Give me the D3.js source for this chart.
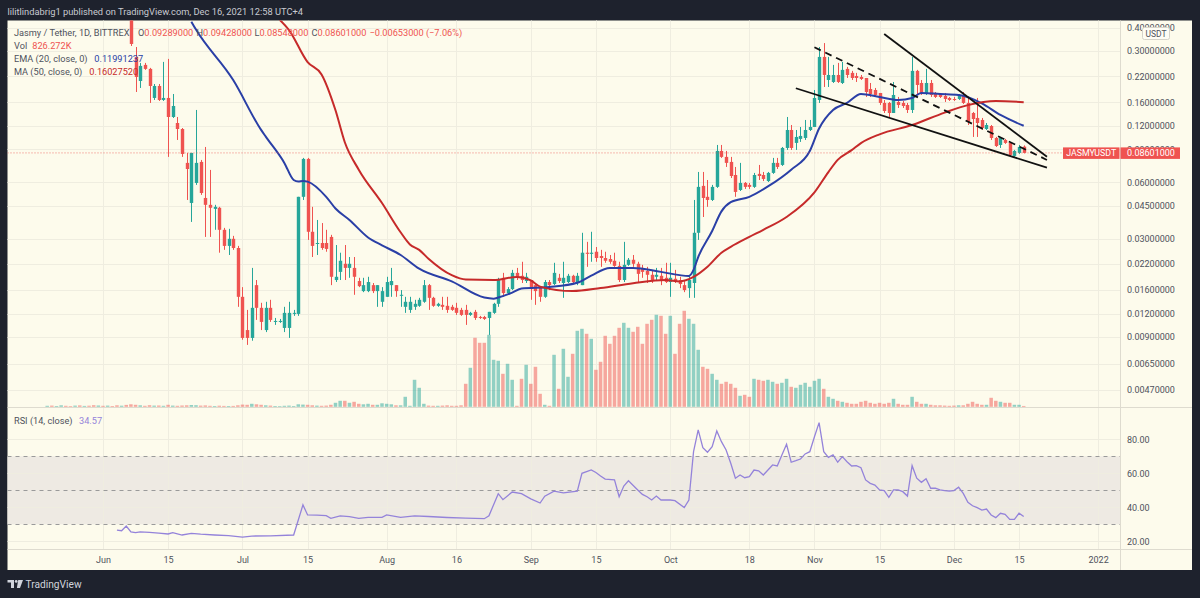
<!DOCTYPE html>
<html>
<head>
<meta charset="utf-8">
<script src="https://cdn.jsdelivr.net/npm/d3@7/dist/d3.min.js"></script>
<style>
  html, body { margin:0; padding:0; background:#1e222d; overflow:hidden; }
  svg { display:block; }
  text { font-family: Roboto, "Noto Sans", "DejaVu Sans", sans-serif; }
</style>
</head>
<body>
<svg id="chart" width="1200" height="598"></svg>
<script>
// ================= DATA =================
const publishLine = "lilitlindabrig1 published on TradingView.com, Dec 16, 2021 12:58 UTC+4";
const symbolTitle = "Jasmy / Tether, 1D, BITTREX";
const symbolTag = "JASMYUSDT";
const quoteCurrency = "USDT";

// daily candles, first visible candle 2021-06-07
const candleStart = "2021-06-07";
const candleOpen = [
  0.50,0.279,0.2077,0.253,0.2409,0.1687,0.1954,0.1646,0.1687,0.1336,
  0.1241,0.1153,0.0761,0.04656,0.0595,0.077,0.0495,0.0455,0.0433,0.0439,
  0.0335,0.0275,0.030,0.0268,0.01473,0.0098,0.0089,0.017,0.01287,0.0098,
  0.01287,0.01083,0.01083,0.01006,0.01006,0.01195,0.01195,0.0502,0.0799,0.0327,
  0.0282,0.0285,0.0285,0.0307,0.0181,0.020,0.02209,0.021,0.021,0.01788,
  0.0158,0.0158,0.017,0.0158,0.01386,0.01473,0.017,0.017,0.01492,0.01303,
  0.01255,0.01303,0.01319,0.01386,0.017,0.01455,0.01319,0.01335,0.01319,0.01303,
  0.01287,0.01255,0.01255,0.0118,0.01225,0.01151,0.01151,0.01137,0.0121,0.01352,
  0.0186,0.01542,0.01619,0.01976,0.01906,0.01788,0.0181,0.017,0.01659,0.01473,
  0.01766,0.01723,0.0186,0.01745,0.01766,0.01906,0.01745,0.017,0.0253,0.02495,
  0.0256,0.0243,0.02371,0.02342,0.02292,0.02153,0.0181,0.0218,0.0232,0.02209,
  0.021,0.02025,0.0193,0.01883,0.01906,0.0186,0.01766,0.01838,0.0181,0.017,
  0.01639,0.01745,0.0323,0.0574,0.0502,0.0483,0.0567,0.0881,0.0819,0.077,
  0.0656,0.0546,0.0595,0.0581,0.0567,0.0665,0.0656,0.0609,0.0673,0.0761,
  0.0742,0.0914,0.1139,0.0972,0.1021,0.1033,0.1139,0.1182,0.1646,0.279,
  0.2103,0.2052,0.2236,0.2027,0.2409,0.2294,0.2209,0.2182,0.2155,0.1883,
  0.186,0.1793,0.1587,0.1587,0.1403,0.1606,0.1587,0.1548,0.1456,0.2351,
  0.2027,0.1793,0.2027,0.1793,0.1771,0.1729,0.1687,0.1666,0.1666,0.175,
  0.1587,0.1403,0.132,0.1288,0.1153,0.1196,0.1033,0.0948,0.1008,0.0972,
  0.0829,0.086,0.09289
];
const candleHigh = [
  0.52,0.315,0.2593,0.2593,0.2439,0.2002,0.2002,0.2625,0.2723,0.1771,
  0.1336,0.1167,0.086,0.086,0.1456,0.0789,0.0925,0.0698,0.0455,0.0444,
  0.0343,0.0339,0.0311,0.0275,0.01659,0.01255,0.021,0.0181,0.01369,0.01386,
  0.0142,0.01137,0.01123,0.01303,0.01386,0.01255,0.0502,0.0809,0.0809,0.0444,
  0.0378,0.0364,0.0335,0.0315,0.0278,0.0253,0.0278,0.024,0.024,0.0186,
  0.0186,0.01883,0.01745,0.017,0.01659,0.01883,0.021,0.017,0.016,0.01473,
  0.01473,0.0142,0.01455,0.0181,0.01723,0.01473,0.01369,0.01473,0.01473,0.01335,
  0.01369,0.01287,0.01335,0.01225,0.01255,0.01166,0.01166,0.01225,0.01369,0.0186,
  0.01976,0.01659,0.0205,0.021,0.02264,0.01976,0.0181,0.01745,0.01659,0.0181,
  0.0181,0.02236,0.01952,0.02264,0.01952,0.0193,0.01976,0.0323,0.0289,0.0327,
  0.02713,0.0262,0.0256,0.0246,0.0253,0.02264,0.0289,0.02371,0.0246,0.02264,
  0.0218,0.02127,0.02025,0.021,0.021,0.02236,0.02236,0.0205,0.01883,0.0181,
  0.0193,0.0483,0.0681,0.0681,0.0617,0.0581,0.0948,0.0948,0.0881,0.0819,
  0.0724,0.0761,0.0602,0.0595,0.0673,0.0742,0.0681,0.0681,0.0809,0.0809,
  0.0925,0.1336,0.1211,0.1139,0.1182,0.1288,0.1288,0.186,0.315,0.3306,
  0.279,0.253,0.2593,0.2625,0.2469,0.2351,0.2294,0.2236,0.2155,0.2027,
  0.1907,0.1793,0.1646,0.1606,0.2052,0.1708,0.1626,0.1587,0.279,0.238,
  0.2103,0.2409,0.2103,0.1815,0.1793,0.1793,0.1708,0.1708,0.1771,0.1815,
  0.1708,0.1421,0.1687,0.132,0.1241,0.1211,0.1046,0.1046,0.1021,0.0972,
  0.0892,0.0948,0.09428
];
const candleLow = [
  0.319,0.1815,0.1907,0.238,0.1587,0.1646,0.1626,0.1626,0.0819,0.132,
  0.1008,0.0819,0.0483,0.0369,0.0581,0.0514,0.0307,0.0307,0.0335,0.0253,
  0.0262,0.0246,0.0262,0.01303,0.0087,0.00817,0.0086,0.0111,0.0098,0.00956,
  0.01083,0.01044,0.0107,0.00956,0.0089,0.01166,0.01166,0.0483,0.0296,0.024,
  0.0246,0.0262,0.0256,0.017,0.01766,0.0181,0.0181,0.0186,0.0151,0.01659,
  0.0156,0.0156,0.01542,0.01303,0.01303,0.01473,0.01473,0.01473,0.01303,0.0121,
  0.0121,0.01255,0.01303,0.01369,0.01255,0.01303,0.01303,0.01255,0.0121,0.0124,
  0.0118,0.01166,0.01044,0.01166,0.0111,0.01123,0.0111,0.00923,0.01195,0.01303,
  0.01473,0.0151,0.016,0.0181,0.01745,0.01745,0.0142,0.01335,0.01386,0.01455,
  0.016,0.017,0.01745,0.01455,0.01745,0.01723,0.017,0.017,0.02127,0.02264,
  0.02264,0.02127,0.02236,0.02209,0.02127,0.01766,0.01766,0.02153,0.02127,0.01766,
  0.0186,0.01745,0.01745,0.0181,0.017,0.01745,0.01473,0.01745,0.01639,0.0156,
  0.01455,0.01455,0.0296,0.0392,0.0444,0.0477,0.056,0.0809,0.0724,0.0632,
  0.0502,0.0539,0.0553,0.0553,0.056,0.0617,0.0609,0.0602,0.0665,0.0706,
  0.0733,0.0892,0.0892,0.0892,0.0984,0.1008,0.1125,0.1182,0.1587,0.193,
  0.193,0.2027,0.2027,0.2002,0.2155,0.2103,0.2052,0.2103,0.1708,0.1708,
  0.1708,0.1548,0.1403,0.132,0.1403,0.1492,0.1492,0.1403,0.1403,0.175,
  0.175,0.175,0.1708,0.1687,0.1687,0.1606,0.1626,0.1626,0.1646,0.1567,
  0.1211,0.1046,0.1046,0.1139,0.1139,0.1008,0.0925,0.0914,0.096,0.0829,
  0.0819,0.0849,0.08548
];
const candleClose = [
  0.327,0.2182,0.2499,0.2409,0.1954,0.1954,0.1646,0.1687,0.1336,0.1529,
  0.1153,0.0849,0.0706,0.086,0.0761,0.0526,0.0455,0.0439,0.0444,0.0335,
  0.0275,0.030,0.0268,0.01473,0.0089,0.0089,0.01287,0.01287,0.01083,0.01287,
  0.0111,0.01096,0.01096,0.0121,0.0121,0.0121,0.0502,0.0799,0.0327,0.0275,
  0.0285,0.0268,0.0265,0.01883,0.01883,0.02292,0.021,0.02209,0.01883,0.01679,
  0.017,0.01766,0.0158,0.017,0.0158,0.01766,0.01788,0.0158,0.0151,0.01386,
  0.01386,0.01352,0.0142,0.017,0.01455,0.01319,0.01352,0.01303,0.01255,0.01255,
  0.0121,0.0118,0.0118,0.0121,0.01137,0.01137,0.01123,0.01225,0.01352,0.0181,
  0.01542,0.01619,0.01976,0.01883,0.0181,0.01883,0.01619,0.0158,0.01473,0.01766,
  0.017,0.01976,0.01788,0.0186,0.01906,0.01766,0.01906,0.0253,0.02495,0.0253,
  0.02371,0.02371,0.02292,0.02264,0.02153,0.0181,0.0218,0.0232,0.02209,0.01952,
  0.020,0.0193,0.01788,0.0193,0.0181,0.01766,0.0186,0.01788,0.01723,0.016,
  0.0181,0.0323,0.0567,0.0495,0.0483,0.0567,0.0881,0.0819,0.0761,0.0648,
  0.0533,0.0595,0.0567,0.0567,0.0656,0.0648,0.0625,0.0673,0.0761,0.0724,
  0.0914,0.1139,0.0914,0.1046,0.1059,0.1139,0.1182,0.1687,0.279,0.2236,
  0.2236,0.2236,0.2052,0.238,0.2236,0.2155,0.2155,0.2129,0.1815,0.1771,
  0.175,0.1587,0.1438,0.1403,0.175,0.1548,0.1529,0.1456,0.2351,0.1978,
  0.1793,0.2027,0.175,0.1708,0.1708,0.1666,0.1646,0.1646,0.175,0.1587,
  0.1257,0.1303,0.1241,0.1167,0.1211,0.1033,0.0936,0.1033,0.0972,0.0839,
  0.0881,0.09254,0.08601
];

// daily volume (millions), from 2021-05-20
const volumeStart = "2021-05-20";
const volumeM = [
  1.0,1.2,0.8,1.5,1.0,0.7,1.2,1.4,0.9,1.1,
  1.6,1.3,1.0,1.2,0.8,1.5,1.1,1.9,
  2.5,2.0,1.5,1.0,1.6,1.2,1.3,1.0,2.0,1.2,
  1.0,1.3,1.5,1.8,1.6,1.2,1.4,1.0,0.8,1.1,
  0.9,0.8,0.9,1.5,2.2,2.0,3.0,2.5,2.0,1.5,
  1.2,0.8,0.7,1.0,1.2,0.8,2.5,2.2,2.0,1.5,
  1.2,1.0,1.2,2.0,4,6,6,4,5,3,
  2.5,3,2,2,3.5,3,2.5,1.5,1.5,10,
  1,27,19,3,1.2,1.0,1.0,1.2,1.5,1.0,
  1.0,1.5,23,39,69,64,64,72,47,46,
  33,43,27,1,28,42,23,40,13,2,
  1,52,18,58,30,53,76,78,73,68,
  37,45,71,63,71,79,84,79,75,80,
  63,83,87,92,91,73,91,53,83,96,
  88,83,57,40,38,33,27,23,25,23,
  19,11,12,10,28,27,26,27,25,23,
  24,28,20,19,22,24,20,26,28,18,
  10,8,6,5,4,3,3,5,6,4,
  3,4,3,4,8,3,2,2,10,5,
  3,3,2,1.5,1.5,1.2,1.0,1.2,1.5,1.5,
  3,5,3,2,2,9,6,5,4,4,
  2,2,0.826272
];
// direction of the volume bars before the first visible candle (1 = up)
const earlyVolumeUp = [1,0,1,1,0,0,1,0,1,0,0,1,0,1,0,0,1,0];

// EMA (20)
const emaDates = ["06-20","06-21","06-29","07-05","07-06","07-10","07-12","07-13","07-14","07-15","07-19","07-21","07-24","07-28","07-31","08-04","08-08","08-15","08-22","08-24","08-25","08-28","08-30","09-05","09-11","09-14","09-18","09-23","09-29","10-05","10-06","10-07","10-10","10-12","10-14","10-18","10-22","10-27","10-31","11-02","11-05","11-08","11-11","11-15","11-19","11-22","11-24","11-28","12-02","12-07","12-11","12-16"];
const emaValues = [0.43,0.39,0.21,0.114,0.105,0.0761,0.0617,0.0605,0.061,0.0605,0.0502,0.0435,0.0378,0.0305,0.0277,0.0246,0.0208,0.0178,0.0146,0.0144,0.0146,0.0155,0.0163,0.0166,0.0175,0.0191,0.0210,0.0210,0.0200,0.0190,0.0205,0.0240,0.0330,0.0420,0.0470,0.0502,0.0570,0.0700,0.0880,0.1160,0.1456,0.1587,0.1771,0.1708,0.1646,0.1687,0.1793,0.1771,0.1750,0.1580,0.1369,0.11991237];

// MA (50)
const maDates = ["07-09","07-11","07-15","07-18","07-21","07-23","07-26","07-31","08-04","08-06","08-08","08-10","08-15","08-18","08-24","08-29","09-01","09-03","09-10","09-16","09-23","09-30","10-03","10-06","10-09","10-12","10-14","10-18","10-21","10-26","11-01","11-04","11-06","11-09","11-11","11-15","11-22","11-29","12-04","12-10","12-16"];
const maValues = [0.44,0.388,0.262,0.225,0.145,0.098,0.070,0.0465,0.0325,0.0280,0.0262,0.0235,0.0192,0.0182,0.0181,0.0188,0.0180,0.0167,0.0158,0.0164,0.0174,0.0181,0.0178,0.0188,0.0213,0.0253,0.0272,0.0307,0.0335,0.0392,0.0530,0.0680,0.0790,0.0890,0.0970,0.1080,0.1210,0.1410,0.1545,0.1626,0.1602752];

// RSI (14)
const rsiDates = ["06-04","06-05","06-06","06-07","06-08","06-09","06-11","06-13","06-15","06-16","06-18","06-20","06-22","06-25","06-28","07-01","07-03","07-07","07-12","07-14","07-15","07-17","07-19","07-20","07-22","07-24","07-26","07-28","07-31","08-01","08-04","08-07","08-10","08-14","08-18","08-22","08-23","08-25","08-26","08-28","08-30","09-01","09-03","09-04","09-06","09-08","09-11","09-12","09-14","09-15","09-16","09-17","09-19","09-20","09-21","09-22","09-24","09-25","09-26","09-27","09-28","09-29","10-01","10-02","10-04","10-05",
  "10-06","10-07","10-08","10-09","10-10","10-11","10-12","10-13","10-14","10-15","10-16","10-17","10-18","10-19","10-20","10-21","10-22","10-23","10-24","10-25","10-26","10-27","10-28","10-29","10-30","10-31",
  "11-01","11-02","11-03","11-04","11-05","11-06","11-07","11-08","11-09","11-10","11-11","11-12","11-13","11-14","11-15","11-16","11-17","11-18","11-19","11-20","11-21","11-22","11-23","11-24","11-25","11-26","11-27","11-28","11-29","11-30",
  "12-01","12-02","12-03","12-04","12-05","12-06","12-07","12-08","12-09","12-10","12-11","12-12","12-13","12-14","12-15","12-16"];
const rsiValues = [26.6,26.2,29.0,25.5,25.1,25.6,25.2,24.8,24.3,25.1,23.7,24.7,24.2,23.7,23.3,22.4,23.1,23.2,23.7,41.4,35.5,35.4,35.1,33.5,34.9,34.5,33.5,34.1,34.1,35.5,34.1,35.0,34.6,34.0,33.6,33.3,35.0,48.0,44.5,49.0,48.0,45.0,42.5,46.5,49.5,48.5,49.5,60.0,62.0,60.5,58.4,56.6,56.1,46.2,52.5,55.6,50.2,47.6,46.2,44.3,46.6,44.3,44.3,43.9,39.8,44.3,
  72.7,85.5,75.1,72.4,75.6,84.9,78.6,73.7,65.9,57.1,59.0,57.4,58.0,61.9,61.5,59.0,61.9,64.9,64.3,70.8,77.1,66.5,67.4,68.4,71.4,72.7,
  81.5,89.8,72.7,69.4,70.8,66.5,69.8,66.8,64.3,64.5,63.3,56.1,54.1,53.1,50.2,49.8,45.9,50.2,50.2,49.2,46.6,64.5,57.1,54.7,56.8,51.2,51.2,50.2,49.8,49.6,
  49.8,51.8,48.2,42.9,40.9,39.8,38.4,39.0,35.5,33.9,36.5,35.9,32.9,32.9,36.5,34.57];

// axes
const priceTicks = [0.4,0.3,0.22,0.16,0.12,0.09,0.06,0.045,0.03,0.022,0.016,0.012,0.009,0.0065,0.0047];
const timeTickDates = ["2021-06-01","2021-06-15","2021-07-01","2021-07-15","2021-08-01","2021-08-16","2021-09-01","2021-09-15","2021-10-01","2021-10-18","2021-11-01","2021-11-15","2021-12-01","2021-12-15","2022-01-01"];
const timeTickLabels = ["Jun","15","Jul","15","Aug","16","Sep","15","Oct","18","Nov","15","Dec","15","2022"];
const rsiTicks = [80,60,40,20];
const rsiLevels = [70,50,30];

// hand-drawn trend lines (date, price)
const upperTrend = [["2021-11-16",0.3695],["2021-12-21",0.0821]];
const lowerTrend = [["2021-10-28",0.190],["2021-12-21",0.0718]];
const channelTrend = [["2021-11-01",0.314],["2021-12-21",0.0789]];

// ================= DRAWING =================
const parse = d3.utcParse("%Y-%m-%d");
const md = s => parse("2021-" + s);
const UP = "#26a69a", DOWN = "#ef5350";
const EMA_C = "#2a3fa6", MA_C = "#c62a2a", RSI_C = "#9483da";
const TXT = "#4f525c", BG = "#fdfbec", GRID = "#efede0", SEP = "#dedbcf";

const svg = d3.select("#chart");
const L = 7.5, T = 20.5, R = 1192, B = 570, AX = 1120.5, MB = 407.5, RB = 549.5;

const x = d3.scaleUtc().domain([parse("2021-06-01"), parse("2022-01-01")]).range([103, 1098.1]);
const y = d3.scaleLog().domain([0.0047, 0.3]).range([390, 51]);
const yVol = d3.scaleLinear().domain([0, 100]).range([406.8, 306.8]);
const yRsi = d3.scaleLinear().domain([20, 80]).range([541.3, 439.3]);

svg.append("rect").attr("width", 1200).attr("height", 598).attr("fill", "#1e222d");
svg.append("rect").attr("x", L).attr("y", T).attr("width", R - L).attr("height", B - T).attr("fill", BG);

const lastIdx = candleClose.length - 1;
const lastClose = candleClose[lastIdx];
const ly = y(lastClose);

const defs = svg.append("defs");
defs.append("clipPath").attr("id", "clipMain").append("rect")
  .attr("x", L).attr("y", T).attr("width", AX - L).attr("height", MB - T);
defs.append("clipPath").attr("id", "clipRsi").append("rect")
  .attr("x", L).attr("y", MB + 0.5).attr("width", AX - L).attr("height", RB - MB - 0.5);

// grid
const grid = svg.append("g").attr("stroke", GRID).attr("stroke-width", 1);
grid.selectAll("line.hp").data(priceTicks).join("line").attr("class", "hp")
  .attr("x1", L).attr("x2", AX)
  .attr("y1", d => Math.round(y(d)) + 0.5).attr("y2", d => Math.round(y(d)) + 0.5);
grid.selectAll("line.v").data(timeTickDates).join("line").attr("class", "v")
  .attr("x1", d => Math.round(x(parse(d))) + 0.5).attr("x2", d => Math.round(x(parse(d))) + 0.5)
  .attr("y1", T).attr("y2", RB);

// RSI band
svg.append("rect").attr("x", L).attr("width", AX - L)
  .attr("y", yRsi(70)).attr("height", yRsi(30) - yRsi(70)).attr("fill", "#eeeae3");
grid.raise();
svg.append("g").attr("stroke", GRID).selectAll("line").data(rsiTicks).join("line")
  .attr("x1", L).attr("x2", AX)
  .attr("y1", d => Math.round(yRsi(d)) + 0.5).attr("y2", d => Math.round(yRsi(d)) + 0.5);
svg.append("g").attr("stroke", "#9a9a9a").attr("stroke-dasharray", "4,4")
  .selectAll("line").data(rsiLevels).join("line")
  .attr("x1", L).attr("x2", AX)
  .attr("y1", d => Math.round(yRsi(d)) + 0.5).attr("y2", d => Math.round(yRsi(d)) + 0.5);

// main pane
const gMain = svg.append("g").attr("clip-path", "url(#clipMain)");
const volStart = parse(volumeStart);
const cStart = parse(candleStart);
const offset = d3.utcDay.count(volStart, cStart);

const volData = volumeM.map((v, i) => {
  const ci = i - offset;
  const isUp = ci >= 0 ? candleClose[ci] >= candleOpen[ci] : earlyVolumeUp[i] === 1;
  return { date: d3.utcDay.offset(volStart, i), v, up: isUp };
});
gMain.append("g").selectAll("rect").data(volData).join("rect")
  .attr("x", d => x(d.date) - 1.75).attr("width", 3.5)
  .attr("y", d => yVol(d.v)).attr("height", d => yVol(0) - yVol(d.v))
  .attr("fill", d => d.up ? "rgba(38,166,154,0.5)" : "rgba(239,83,80,0.5)");

const candles = candleOpen.map((o, i) => ({
  date: d3.utcDay.offset(cStart, i), o, h: candleHigh[i], l: candleLow[i], c: candleClose[i]
}));
const gc = gMain.append("g");
gc.selectAll("line").data(candles).join("line")
  .attr("x1", d => Math.round(x(d.date)) + 0.5).attr("x2", d => Math.round(x(d.date)) + 0.5)
  .attr("y1", d => y(d.h)).attr("y2", d => y(d.l))
  .attr("stroke", d => d.c >= d.o ? UP : DOWN).attr("stroke-width", 1);
gc.selectAll("rect").data(candles).join("rect")
  .attr("x", d => Math.round(x(d.date)) - 1.2).attr("width", 3.4)
  .attr("y", d => y(Math.max(d.o, d.c)))
  .attr("height", d => Math.max(1, Math.abs(y(d.o) - y(d.c))))
  .attr("fill", d => d.c >= d.o ? UP : DOWN);

const priceLine = d3.line().x(d => x(d.date)).y(d => y(d.v)).curve(d3.curveMonotoneX);
gMain.append("path").datum(emaDates.map((s, i) => ({ date: md(s), v: emaValues[i] })))
  .attr("d", priceLine).attr("fill", "none").attr("stroke", EMA_C).attr("stroke-width", 2);
gMain.append("path").datum(maDates.map((s, i) => ({ date: md(s), v: maValues[i] })))
  .attr("d", priceLine).attr("fill", "none").attr("stroke", MA_C).attr("stroke-width", 2);

gMain.append("line").attr("x1", L).attr("x2", AX)
  .attr("y1", ly).attr("y2", ly)
  .attr("stroke", DOWN).attr("stroke-opacity", 0.75).attr("stroke-dasharray", "1,2");

const trendLine = d3.line().x(d => x(parse(d[0]))).y(d => y(d[1]));
gMain.append("path").datum(upperTrend).attr("d", trendLine).attr("stroke", "#111").attr("stroke-width", 1.8).attr("fill", "none");
gMain.append("path").datum(lowerTrend).attr("d", trendLine).attr("stroke", "#111").attr("stroke-width", 1.8).attr("fill", "none");
gMain.append("path").datum(channelTrend).attr("d", trendLine).attr("stroke", "#111").attr("stroke-width", 1.8)
  .attr("stroke-dasharray", "7,5").attr("fill", "none");

// RSI
const gRsi = svg.append("g").attr("clip-path", "url(#clipRsi)");
gRsi.append("path").datum(rsiDates.map((s, i) => ({ date: md(s), v: rsiValues[i] })))
  .attr("d", d3.line().x(d => x(d.date)).y(d => yRsi(d.v)))
  .attr("fill", "none").attr("stroke", RSI_C).attr("stroke-width", 1.3);

// separators
svg.append("line").attr("x1", L).attr("x2", R).attr("y1", MB).attr("y2", MB).attr("stroke", SEP);
svg.append("line").attr("x1", L).attr("x2", R).attr("y1", RB).attr("y2", RB).attr("stroke", SEP);
svg.append("line").attr("x1", AX).attr("x2", AX).attr("y1", T).attr("y2", B).attr("stroke", SEP);

// axes
function styleAxis(g, size) {
  g.select(".domain").remove();
  g.selectAll("text").attr("fill", TXT).attr("font-size", size)
    .attr("font-family", 'Roboto, "Noto Sans", sans-serif');
}
// the label hidden behind the last-price tag only peeks out above it
defs.append("clipPath").attr("id", "clipAxisTop").append("rect")
  .attr("x", AX).attr("y", 0).attr("width", 80).attr("height", ly - 5.5);
svg.append("g").attr("transform", `translate(${AX},0)`)
  .call(d3.axisRight(y).tickValues(priceTicks).tickFormat(d => d.toFixed(8)).tickSize(0).tickPadding(6.5))
  .call(g => styleAxis(g, 9))
  .call(g => g.selectAll(".tick").filter(d => Math.abs(y(d) - ly) < 8)
    .attr("clip-path", null)
    .each(function () { d3.select(this).select("text").attr("font-size", 9); }));
svg.append("g").attr("transform", `translate(${AX},0)`)
  .call(d3.axisRight(yRsi).tickValues(rsiTicks).tickFormat(d3.format(".2f")).tickSize(0).tickPadding(6.5))
  .call(g => styleAxis(g, 9));
svg.append("g").attr("transform", `translate(0,${RB})`)
  .call(d3.axisBottom(x).tickValues(timeTickDates.map(parse)).tickFormat((d, i) => timeTickLabels[i]).tickSize(0).tickPadding(7.5))
  .call(g => styleAxis(g, 9));

// quote currency box
svg.append("rect").attr("x", 1142.5).attr("y", 27.5).attr("width", 27).attr("height", 12).attr("rx", 2)
  .attr("fill", "#fefdf5").attr("stroke", "#d6d4ca");
svg.append("text").attr("x", 1156).attr("y", 36.6).attr("text-anchor", "middle")
  .attr("font-size", 8.5).attr("fill", TXT).text(quoteCurrency);

// last price tags
svg.append("rect").attr("x", AX).attr("y", ly - 5.5).attr("width", 59.5).attr("height", 11.5).attr("fill", DOWN);
svg.append("text").attr("x", AX + 6.5).attr("y", ly + 3.2).attr("font-size", 9).attr("fill", "#fff")
  .text(lastClose.toFixed(8));
svg.append("rect").attr("x", 1063).attr("y", ly - 5.5).attr("width", 56.5).attr("height", 11.5).attr("fill", DOWN);
svg.append("text").attr("x", 1091.2).attr("y", ly + 3.2).attr("font-size", 8.8).attr("fill", "#fff")
  .attr("text-anchor", "middle").text(symbolTag);

// legends
const fmt8 = v => v.toFixed(8);
const lastO = candleOpen[lastIdx], lastH = candleHigh[lastIdx], lastL = candleLow[lastIdx];
const chg = lastClose - candleClose[lastIdx - 1];
const pct = chg / candleClose[lastIdx - 1] * 100;
const lg = svg.append("g").attr("font-size", 9.2);
function piece(xp, yp, label, value, color) {
  const t = lg.append("text").attr("x", xp).attr("y", yp);
  if (label) t.append("tspan").attr("fill", TXT).text(label);
  if (value) t.append("tspan").attr("fill", color).text(value);
}
piece(14, 35.5, symbolTitle, null);
piece(138, 35.5, "O", fmt8(lastO), DOWN);
piece(196.5, 35.5, "H", fmt8(lastH), DOWN);
piece(254.5, 35.5, "L", fmt8(lastL), DOWN);
piece(311.5, 35.5, "C", fmt8(lastClose), DOWN);
piece(369.5, 35.5, null, (chg < 0 ? "\u2212" : "+") + Math.abs(chg).toFixed(8) + " (" + (pct < 0 ? "\u2212" : "+") + Math.abs(pct).toFixed(2) + "%)", DOWN);
piece(14, 48.5, "Vol", null);
piece(32.3, 48.5, null, (volumeM[volumeM.length - 1] * 1000).toFixed(3) + "K", DOWN);
piece(14, 61.8, "EMA (20, close, 0)", null);
piece(94.3, 61.8, null, emaValues[emaValues.length - 1].toFixed(8), EMA_C);
piece(14, 75, "MA (50, close, 0)", null);
piece(89.3, 75, null, maValues[maValues.length - 1].toFixed(8), MA_C);
piece(14, 423.5, "RSI (14, close)", null);
piece(79, 423.5, null, rsiValues[rsiValues.length - 1].toFixed(2), RSI_C);

// header & footer
svg.append("text").attr("x", 7.5).attr("y", 15.3).attr("font-size", 9.3).attr("fill", "#c8cad1").text(publishLine);
const logo = svg.append("g").attr("fill", "#d1d4dc");
logo.append("path").attr("d", "M7.5,580 H14 V588 H11 V582.6 H7.5 Z");
logo.append("circle").attr("cx", 16.2).attr("cy", 581.4).attr("r", 1.4);
logo.append("path").attr("d", "M18.2,580 H23 L20,588 H16.9 Z");
svg.append("text").attr("x", 25.5).attr("y", 588).attr("font-size", 10.2).attr("fill", "#d1d4dc").text("TradingView");
</script>
</body>
</html>
